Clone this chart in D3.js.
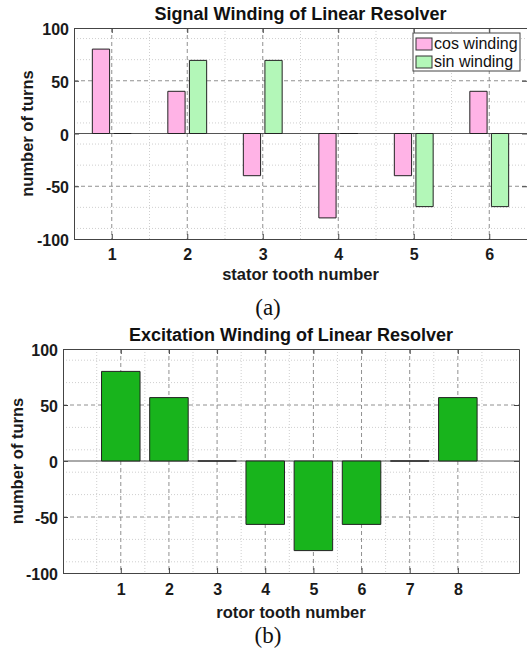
<!DOCTYPE html>
<html>
<head>
<meta charset="utf-8">
<script src="https://cdn.jsdelivr.net/npm/d3@7"></script>
<style>
  body { margin: 0; background: #fff; }
  svg { display: block; }
</style>
</head>
<body>
<div id="chart"></div>
<script>
// values
const statorTeeth = [1, 2, 3, 4, 5, 6];
const cosTurns = [80, 40, -40, -80, -40, 40];
const sinTurns = [0, 69.3, 69.3, 0, -69.3, -69.3];
const seriesNames = ["cos winding", "sin winding"];

const rotorTeeth = [1, 2, 3, 4, 5, 6, 7, 8];
const excitationTurns = [80, 56.6, 0, -56.6, -80, -56.6, 0, 56.6];

const yTicks = [-100, -50, 0, 50, 100];
const yMinor = [-90, -70, -30, -10, 10, 30, 70, 90];

const FONT = "'Liberation Sans', Arial, sans-serif";

let svg = d3.select("#chart")
  .append("svg")
    .attr("width", 527)
    .attr("height", 650);

// draws frame, grid, ticks and labels for one panel, returns the scales
function drawFrame(p) {
  let x = d3.scaleLinear().domain(p.xDomain).range([p.left, p.right]);
  let y = d3.scaleLinear().domain([-100, 100]).range([p.bottom, p.top]);
  let g = svg.append("g");

  // minor grid (dotted)
  g.selectAll(".vminor")
    .data(p.xMinor)
    .enter().append("line")
      .attr("x1", d => x(d)).attr("x2", d => x(d))
      .attr("y1", p.top).attr("y2", p.bottom)
      .attr("stroke", "#cfcfcf").attr("stroke-dasharray", "1,2");
  g.selectAll(".hminor")
    .data(yMinor)
    .enter().append("line")
      .attr("x1", p.left).attr("x2", p.right)
      .attr("y1", d => y(d)).attr("y2", d => y(d))
      .attr("stroke", "#cfcfcf").attr("stroke-dasharray", "1,2");

  // major grid (dashed)
  g.selectAll(".vmajor")
    .data(p.xTicks)
    .enter().append("line")
      .attr("x1", d => x(d)).attr("x2", d => x(d))
      .attr("y1", p.top).attr("y2", p.bottom)
      .attr("stroke", "#909090").attr("stroke-dasharray", "4,3");
  g.selectAll(".hmajor")
    .data(yTicks.filter(d => d != 0 && Math.abs(d) != 100))
    .enter().append("line")
      .attr("x1", p.left).attr("x2", p.right)
      .attr("y1", d => y(d)).attr("y2", d => y(d))
      .attr("stroke", "#909090").attr("stroke-dasharray", "4,3");

  // axes, ticks pointing inward like matlab
  let axB = g.append("g")
    .attr("transform", `translate(0,${p.bottom})`)
    .call(d3.axisBottom(x).tickValues(p.xTicks).tickFormat(d => String(d))
      .tickSizeInner(-5).tickSizeOuter(0).tickPadding(p.xPad));
  let axT = g.append("g")
    .attr("transform", `translate(0,${p.top})`)
    .call(d3.axisTop(x).tickValues(p.xTicks).tickFormat("")
      .tickSizeInner(-5).tickSizeOuter(0));
  let axL = g.append("g")
    .attr("transform", `translate(${p.left},0)`)
    .call(d3.axisLeft(y).tickValues(yTicks).tickFormat(d => String(d))
      .tickSizeInner(-5).tickSizeOuter(0).tickPadding(5));
  let axR = g.append("g")
    .attr("transform", `translate(${p.right},0)`)
    .call(d3.axisRight(y).tickValues(yTicks).tickFormat("")
      .tickSizeInner(-5).tickSizeOuter(0));

  [axB, axT, axL, axR].forEach(a => {
    a.selectAll("path, line").attr("stroke", "#444");
    a.selectAll("text")
      .attr("font-family", FONT)
      .attr("font-size", "16px")
      .attr("font-weight", "bold")
      .attr("fill", "#1a1a1a");
  });
  axL.selectAll("text").attr("dy", "0.42em");

  // title + axis labels
  g.append("text")
    .attr("x", (p.left + p.right) / 2)
    .attr("y", p.titleY)
    .attr("text-anchor", "middle")
    .attr("font-family", FONT).attr("font-weight", "bold")
    .attr("font-size", "18px").attr("fill", "#111")
    .text(p.title);

  g.append("text")
    .attr("x", (p.left + p.right) / 2)
    .attr("y", p.xLabelY)
    .attr("text-anchor", "middle")
    .attr("font-family", FONT).attr("font-weight", "bold")
    .attr("font-size", "16.5px").attr("fill", "#1a1a1a")
    .text(p.xLabel);

  g.append("text")
    .attr("transform", `translate(${p.yLabelX},${(p.top + p.bottom) / 2}) rotate(-90)`)
    .attr("text-anchor", "middle")
    .attr("font-family", FONT).attr("font-weight", "bold")
    .attr("font-size", "16.5px").attr("fill", "#1a1a1a")
    .text("number of turns");

  g.append("text")
    .attr("x", 268)
    .attr("y", p.captionY)
    .attr("text-anchor", "middle")
    .attr("font-family", "'Liberation Serif', 'Times New Roman', serif")
    .attr("font-size", "23px").attr("fill", "#111")
    .text(p.caption);

  return {x, y, g};
}

// bar as a path so that zero height bars still show a stroke
function barPath(x0, x1, y0, y1) {
  return `M${x0},${y0}H${x1}V${y1}H${x0}Z`;
}

// ---- (a) signal winding ----
let panelA = {
  left: 74, right: 527, top: 28, bottom: 239,
  xDomain: [0.5, 6.5], xTicks: statorTeeth,
  xMinor: [1.5, 2.5, 3.5, 4.5, 5.5],
  xPad: 10,
  title: "Signal Winding of Linear Resolver", titleY: 19.5,
  xLabel: "stator tooth number", xLabelY: 280,
  yLabelX: 33,
  caption: "(a)", captionY: 315
};
let A = drawFrame(panelA);

let barW = 0.2286, offs = [-0.1429, 0.1429];
let colors = ["#ffb3e6", "#b3f7b8"];
let series = [cosTurns, sinTurns];

// baseline
A.g.append("line")
  .attr("x1", panelA.left).attr("x2", panelA.right)
  .attr("y1", A.y(0)).attr("y2", A.y(0))
  .attr("stroke", "#555").attr("stroke-width", 1);

series.forEach((vals, s) => {
  A.g.selectAll(".bar" + s)
    .data(vals)
    .enter().append("path")
      .attr("d", (d, i) => barPath(
        A.x(statorTeeth[i] + offs[s] - barW / 2),
        A.x(statorTeeth[i] + offs[s] + barW / 2),
        A.y(0), A.y(d)))
      .attr("fill", colors[s])
      .attr("stroke", "#222")
      .attr("stroke-width", 1);
});

// legend
let leg = A.g.append("g");
leg.append("rect")
  .attr("x", 413).attr("y", 33).attr("width", 107).attr("height", 38)
  .attr("fill", "#fff").attr("stroke", "#444");
seriesNames.forEach((name, i) => {
  leg.append("rect")
    .attr("x", 416).attr("y", 38 + i * 18).attr("width", 16).attr("height", 12)
    .attr("fill", colors[i]).attr("stroke", "#333");
  leg.append("text")
    .attr("x", 434).attr("y", 49 + i * 18)
    .attr("font-family", FONT).attr("font-size", "16px")
    .attr("fill", "#111")
    .text(name);
});

// ---- (b) excitation winding ----
let panelB = {
  left: 63, right: 519, top: 349, bottom: 573,
  xDomain: [-0.2, 9.27], xTicks: rotorTeeth,
  xMinor: [0.5, 1.5, 2.5, 3.5, 4.5, 5.5, 6.5, 7.5, 8.5],
  xPad: 11,
  title: "Excitation Winding of Linear Resolver", titleY: 341,
  xLabel: "rotor tooth number", xLabelY: 618,
  yLabelX: 23,
  caption: "(b)", captionY: 643
};
let B = drawFrame(panelB);

B.g.append("line")
  .attr("x1", panelB.left).attr("x2", panelB.right)
  .attr("y1", B.y(0)).attr("y2", B.y(0))
  .attr("stroke", "#555").attr("stroke-width", 1);

B.g.selectAll(".ebar")
  .data(excitationTurns)
  .enter().append("path")
    .attr("d", (d, i) => barPath(
      B.x(rotorTeeth[i] - 0.4), B.x(rotorTeeth[i] + 0.4),
      B.y(0), B.y(d)))
    .attr("fill", "#18b41c")
    .attr("stroke", "#222")
    .attr("stroke-width", 1);
</script>
</body>
</html>
